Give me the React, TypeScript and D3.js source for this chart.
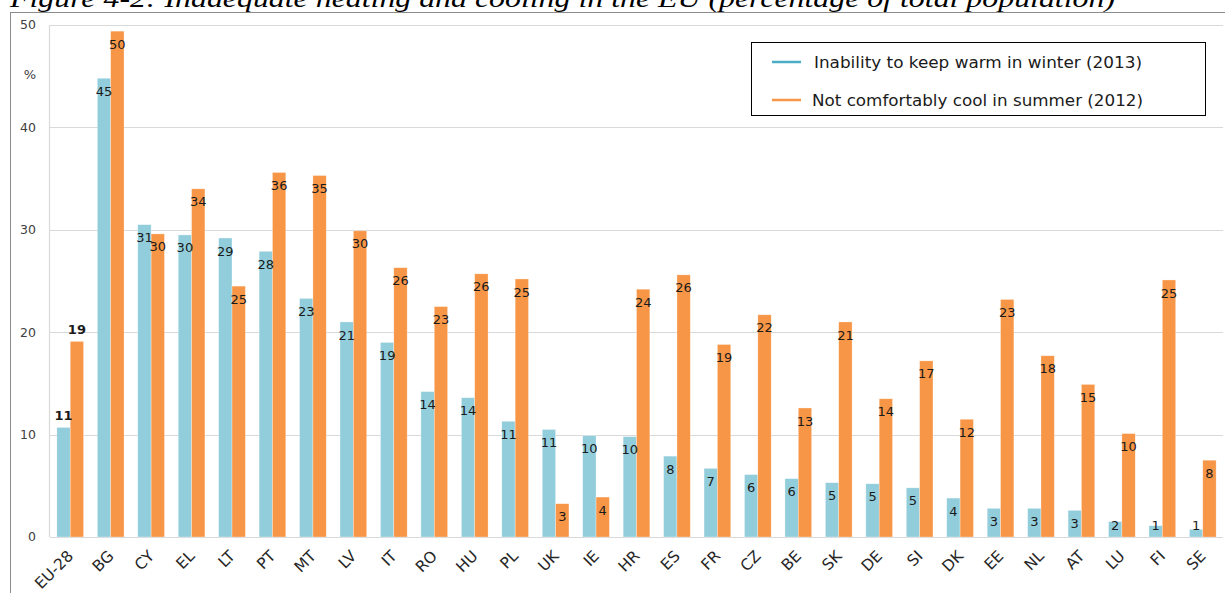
import * as d3 from 'd3'

const countries = ['EU-28', 'BG', 'CY', 'EL', 'LT', 'PT', 'MT', 'LV', 'IT', 'RO', 'HU', 'PL', 'UK', 'IE', 'HR', 'ES', 'FR', 'CZ', 'BE', 'SK', 'DE', 'SI', 'DK', 'EE', 'NL', 'AT', 'LU', 'FI', 'SE']
const winter = [10.7, 44.8, 30.5, 29.5, 29.2, 27.9, 23.3, 21.0, 19.0, 14.2, 13.6, 11.3, 10.5, 9.9, 9.8, 7.9, 6.7, 6.1, 5.7, 5.3, 5.2, 4.8, 3.8, 2.8, 2.8, 2.6, 1.5, 1.1, 0.75]
const summer = [19.1, 49.4, 29.6, 34.0, 24.5, 35.6, 35.3, 29.9, 26.3, 22.5, 25.7, 25.2, 3.25, 3.9, 24.2, 25.6, 18.8, 21.7, 12.6, 21.0, 13.5, 17.2, 11.5, 23.2, 17.7, 14.9, 10.1, 25.1, 7.5]
const winterLabels = [11, 45, 31, 30, 29, 28, 23, 21, 19, 14, 14, 11, 11, 10, 10, 8, 7, 6, 6, 5, 5, 5, 4, 3, 3, 3, 2, 1, 1]
const summerLabels = [19, 50, 30, 34, 25, 36, 35, 30, 26, 23, 26, 25, 3, 4, 24, 26, 19, 22, 13, 21, 14, 17, 12, 23, 18, 15, 10, 25, 8]
const yTicks = [0, 10, 20, 30, 40, 50]
const seriesNames = ['Inability to keep warm in winter (2013)', 'Not comfortably cool in summer (2012)']

const W = 1225
const H = 593
const PLOT = { LEFT: 50, RIGHT: 1223, TOP: 25, BOTTOM: 537 }
const BLUE = '#92cddc'
const ORANGE = '#f79646'
const FONT = '"DejaVu Sans", Verdana, sans-serif'

export default function App() {
  const x = d3.scaleBand<string>()
    .domain(countries)
    .range([PLOT.LEFT, PLOT.RIGHT])
    .paddingInner(0.34)
    .paddingOuter(0.17)

  const x1 = d3.scaleBand<string>()
    .domain(['winter', 'summer'])
    .range([0, x.bandwidth()])

  const y = d3.scaleLinear()
    .domain([0, 50])
    .range([PLOT.BOTTOM, PLOT.TOP])

  const series = [
    { key: 'winter', values: winter, labels: winterLabels, color: BLUE },
    { key: 'summer', values: summer, labels: summerLabels, color: ORANGE },
  ]

  return (
    <svg width={W} height={H} style={{ position: 'absolute', left: 0, top: 0, background: '#fff' }}>
      {/* title, cut off at the top like the source */}
      <text x={10} y={7} fontFamily='"Liberation Serif", "Times New Roman", serif' fontStyle="italic"
        fontSize={26} fill="#000" textLength={1105} lengthAdjust="spacingAndGlyphs">
        Figure 4-2: Inadequate heating and cooling in the EU (percentage of total population)
      </text>

      {/* outer frame */}
      <line x1={10} x2={W} y1={12.5} y2={12.5} stroke="#8c8c8c" strokeWidth={1} />
      <line x1={10.5} x2={10.5} y1={12} y2={H} stroke="#8c8c8c" strokeWidth={1} />

      {/* grid */}
      {yTicks.map(t => (
        <g key={t}>
          <line x1={PLOT.LEFT} x2={PLOT.RIGHT} y1={Math.round(y(t)) + 0.5} y2={Math.round(y(t)) + 0.5}
            stroke="#d9d9d9" strokeWidth={1.2} />
          <text x={36} y={y(t)} dy="0.35em" textAnchor="end" fontFamily={FONT} fontSize={12.5} fill="#404040">{t}</text>
        </g>
      ))}
      <line x1={PLOT.LEFT - 0.5} x2={PLOT.LEFT - 0.5} y1={PLOT.TOP} y2={PLOT.BOTTOM} stroke="#d9d9d9" strokeWidth={1.2} />
      <text x={30} y={74} dy="0.35em" textAnchor="middle" fontFamily={FONT} fontSize={13} fill="#404040">%</text>

      {/* bars */}
      {series.map(s => (
        <g key={s.key} fill={s.color}>
          {countries.map((c, i) => (
            <rect key={c}
              x={(x(c) ?? 0) + (x1(s.key) ?? 0)}
              y={y(s.values[i])}
              width={x1.bandwidth()}
              height={y(0) - y(s.values[i])}
              stroke="#fff" strokeOpacity={0.5} strokeWidth={0.6} />
          ))}
        </g>
      ))}

      {/* data labels */}
      {series.map(s => (
        <g key={s.key + '-lab'} fontFamily={FONT} fontSize={13} fill="#1a1a1a" textAnchor="middle">
          {countries.map((c, i) => {
            const cx = (x(c) ?? 0) + (x1(s.key) ?? 0) + x1.bandwidth() / 2
            const top = y(s.values[i])
            const outside = c === 'EU-28'
            const cy = outside ? top - 12 : Math.min(top + 13, y(0) - 12)
            return (
              <text key={c} x={cx} y={cy} dy="0.35em" fontWeight={outside ? 'bold' : 'normal'}>
                {s.labels[i]}
              </text>
            )
          })}
        </g>
      ))}

      {/* category labels */}
      {countries.map(c => {
        const cx = (x(c) ?? 0) + x.bandwidth() / 2 + 4
        return (
          <text key={c} transform={`translate(${cx},${557}) rotate(-45)`} textAnchor="end"
            fontFamily={FONT} fontSize={15.5} fill="#262626">{c}</text>
        )
      })}

      {/* legend */}
      <rect x={751.5} y={42.5} width={454} height={73} fill="#fff" stroke="#000" strokeWidth={1} />
      {seriesNames.map((n, i) => (
        <g key={n} transform={`translate(772,${62 + i * 38})`}>
          <line x1={0} x2={29} y1={0} y2={0} stroke={i === 0 ? '#4bacc6' : ORANGE} strokeWidth={2.5} />
          <text x={i === 0 ? 42 : 40} y={0} dy="0.35em" fontFamily={FONT} fontSize={16}
            textLength={i === 0 ? 328 : 331} lengthAdjust="spacingAndGlyphs" fill="#1a1a1a">{n}</text>
        </g>
      ))}
    </svg>
  )
}
